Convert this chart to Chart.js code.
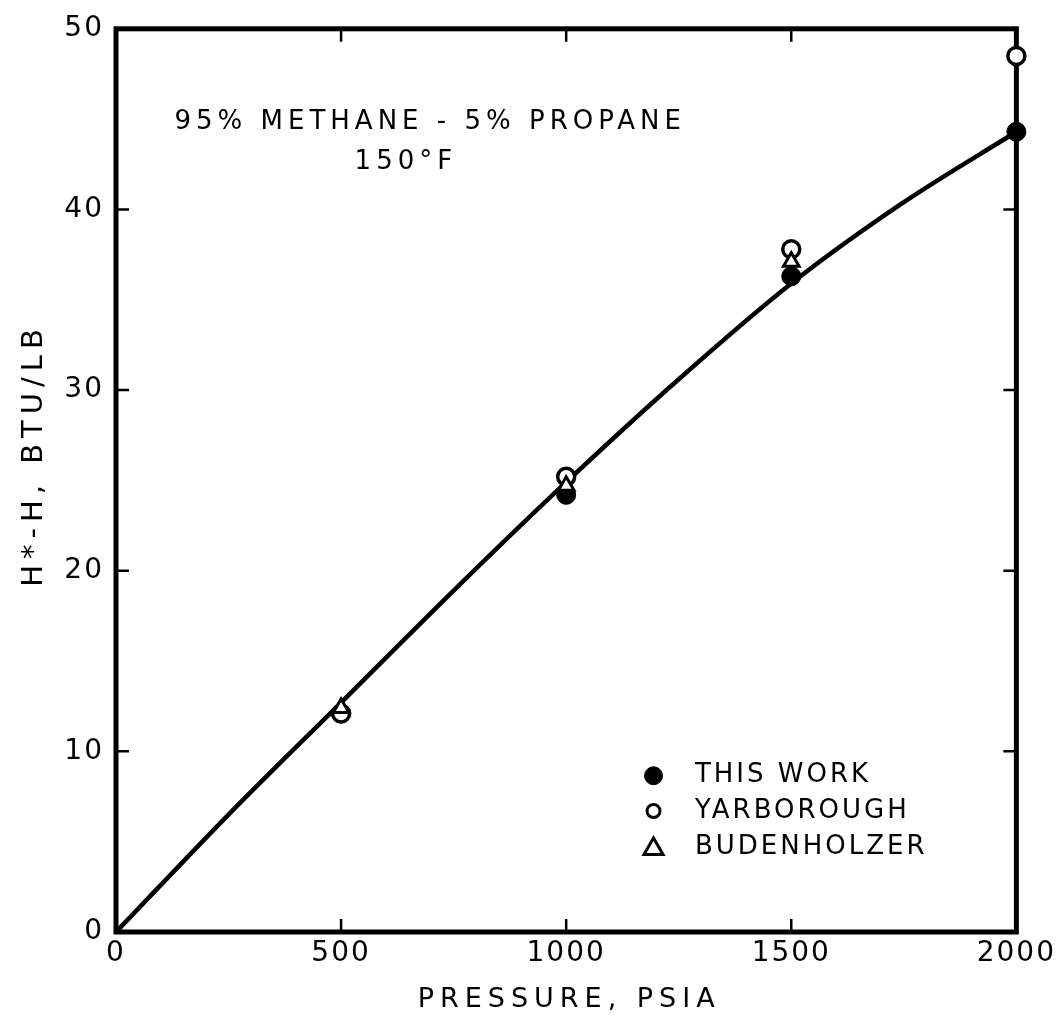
<!DOCTYPE html>
<html><head><meta charset="utf-8">
<script src="https://cdn.jsdelivr.net/npm/chart.js@4.4.1/dist/chart.umd.min.js"></script>
<style>html,body{margin:0;padding:0;background:#fff}#wrap{width:1057px;height:1016px}</style>
</head><body><div id="wrap"><canvas id="c"></canvas></div>
<script>
// ---- data ----
const thisWorkP = [500, 1000, 1500, 2000];
const thisWorkH = [12.1, 24.2, 36.3, 44.3];
const yarboroughP = [500, 1000, 1500, 2000];
const yarboroughH = [12.1, 25.2, 37.8, 48.5];
const budenholzerP = [500, 1000, 1500];
const budenholzerH = [12.4, 24.7, 37.1];
const curveP = [0, 250, 500, 750, 1000, 1250, 1500, 1750, 2000];
const curveH = [0, 6.5, 12.7, 18.9, 24.9, 30.6, 35.9, 40.4, 44.3];
const xTicks = [0, 500, 1000, 1500, 2000];
const yTicks = [0, 10, 20, 30, 40, 50];
const titleLines = ['95% METHANE - 5% PROPANE', '150°F'];
const seriesNames = ['THIS WORK', 'YARBOROUGH', 'BUDENHOLZER'];
const xTitle = 'PRESSURE, PSIA';
const yTitle = 'H*-H, BTU/LB';

const FAMILY = '"DejaVu Sans", sans-serif';
const TICKFONT = {family: FAMILY, size: 28};
const pts = (xs, ys) => xs.map((x, i) => ({x: x, y: ys[i]}));

const framePlugin = {
  id: 'frame',
  beforeDraw(chart) { chart.ctx.letterSpacing = '2px'; },
  beforeDatasetsDraw(chart) {
    const ctx = chart.ctx, a = chart.chartArea;
    const xs = chart.scales.x, ys = chart.scales.y;
    ctx.save();
    ctx.strokeStyle = '#000';
    ctx.lineWidth = 5;
    ctx.lineJoin = 'miter';
    ctx.strokeRect(a.left, a.top, a.right - a.left, a.bottom - a.top);
    ctx.lineWidth = 2.5;
    const tl = 13;
    ctx.beginPath();
    xTicks.slice(1, -1).forEach(v => {
      const px = xs.getPixelForValue(v);
      ctx.moveTo(px, a.bottom); ctx.lineTo(px, a.bottom - tl);
      ctx.moveTo(px, a.top); ctx.lineTo(px, a.top + tl);
    });
    yTicks.slice(1, -1).forEach(v => {
      const py = ys.getPixelForValue(v);
      ctx.moveTo(a.left, py); ctx.lineTo(a.left + tl, py);
      ctx.moveTo(a.right, py); ctx.lineTo(a.right - tl, py);
    });
    ctx.stroke();
    ctx.restore();
  },
  afterDraw(chart) {
    const ctx = chart.ctx, a = chart.chartArea;
    const w = a.right - a.left, h = a.bottom - a.top;
    ctx.save();
    ctx.fillStyle = '#000';
    ctx.textBaseline = 'middle';
    // axis titles
    ctx.font = '27px ' + FAMILY;
    ctx.letterSpacing = '6px';
    ctx.textAlign = 'center';
    ctx.fillText(xTitle, (a.left + a.right) / 2 + 3, 1000);
    ctx.save();
    ctx.translate(34, 458);
    ctx.rotate(-Math.PI / 2);
    ctx.font = '29px ' + FAMILY;
    ctx.letterSpacing = '6px';
    ctx.fillText(yTitle, 3, 0);
    ctx.restore();
    // annotation
    ctx.font = '26px ' + FAMILY;
    ctx.textAlign = 'left';
    ctx.letterSpacing = '5px';
    ctx.fillText(titleLines[0], a.left + 0.065 * w, a.top + 0.104 * h);
    ctx.fillText(titleLines[1], a.left + 0.265 * w, a.top + 0.148 * h);
    // legend
    ctx.letterSpacing = '3px';
    const mx = a.left + 0.597 * w, tx = a.left + 0.643 * w;
    const rows = [0.827, 0.866, 0.906];
    const legendStyles = [
      {pointStyle: 'circle', radius: 9, borderWidth: 1, backgroundColor: '#000', borderColor: '#000'},
      {pointStyle: 'circle', radius: 6.5, borderWidth: 3, backgroundColor: '#fff', borderColor: '#000'},
      {pointStyle: 'triangle', radius: 11, borderWidth: 3, backgroundColor: '#fff', borderColor: '#000'}
    ];
    rows.forEach((r, i) => {
      const y = a.top + r * h;
      ctx.save();
      ctx.fillStyle = legendStyles[i].backgroundColor;
      ctx.strokeStyle = legendStyles[i].borderColor;
      ctx.lineWidth = legendStyles[i].borderWidth;
      Chart.helpers.drawPoint(ctx, {pointStyle: legendStyles[i].pointStyle, radius: legendStyles[i].radius, rotation: 0, borderWidth: legendStyles[i].borderWidth}, mx, y + (i === 2 ? 2 : 0));
      ctx.restore();
      ctx.fillText(seriesNames[i], tx, y);
    });
    ctx.restore();
  }
};

new Chart(document.getElementById('c'), {
  type: 'scatter',
  data: {
    datasets: [
      {label: 'curve', data: pts(curveP, curveH), showLine: true, borderColor: '#000', borderWidth: 4.5,
       pointRadius: 0, pointHoverRadius: 0, cubicInterpolationMode: 'monotone', fill: false, order: 4, clip: false},
      {label: seriesNames[0], data: pts(thisWorkP, thisWorkH), pointStyle: 'circle', pointRadius: 9.5,
       backgroundColor: '#000', borderColor: '#000', borderWidth: 1, order: 3, clip: false},
      {label: seriesNames[1], data: pts(yarboroughP, yarboroughH), pointStyle: 'circle', pointRadius: 8.5,
       backgroundColor: '#fff', borderColor: '#000', borderWidth: 3.5, order: 2, clip: false},
      {label: seriesNames[2], data: pts(budenholzerP, budenholzerH), pointStyle: 'triangle', pointRadius: 9,
       backgroundColor: '#fff', borderColor: '#000', borderWidth: 3, order: 1, clip: false}
    ]
  },
  options: {
    responsive: true,
    maintainAspectRatio: false,
    animation: false,
    events: [],
    layout: {padding: {top: 26, right: 38, left: 0, bottom: 0}},
    plugins: {legend: {display: false}, tooltip: {enabled: false}},
    scales: {
      x: {
        type: 'linear', min: 0, max: 2000,
        afterBuildTicks: s => { s.ticks = xTicks.map(v => ({value: v})); },
        afterFit: s => { s.height = 84; },
        grid: {display: false, drawTicks: false},
        border: {display: false},
        ticks: {font: TICKFONT, color: '#000', padding: 5, maxRotation: 0, autoSkip: false, callback: v => String(v)},
        title: {display: false, text: xTitle}
      },
      y: {
        type: 'linear', min: 0, max: 50,
        afterBuildTicks: s => { s.ticks = yTicks.map(v => ({value: v})); },
        afterFit: s => { s.width = 116; },
        grid: {display: false, drawTicks: false},
        border: {display: false},
        ticks: {font: TICKFONT, color: '#000', padding: 12, autoSkip: false, callback: v => String(v)},
        title: {display: false, text: yTitle}
      }
    }
  },
  plugins: [framePlugin]
});
</script>
</body></html>
